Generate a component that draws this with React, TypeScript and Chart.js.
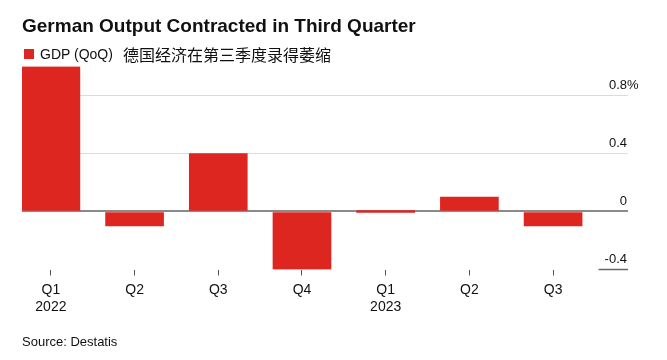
import React, { useEffect, useRef } from "react";
import { Chart, registerables } from "chart.js";

Chart.register(...registerables);

const categories = ["Q1", "Q2", "Q3", "Q4", "Q1", "Q2", "Q3"];
const years = ["2022", "", "", "", "2023", "", ""];
const gdpQoQ = [1.0, -0.1, 0.4, -0.4, 0.0, 0.1, -0.1];
const yTicks = [-0.4, 0, 0.4, 0.8];

const RED = "#dd2620";
const FONT = "'Liberation Sans', Arial, Helvetica, sans-serif";

const yLabelPlugin = {
  id: "yLabels",
  afterDraw(chart: any) {
    const ctx = chart.ctx;
    const y = chart.scales.y;
    const right = chart.chartArea.right;
    ctx.save();
    ctx.font = `13px ${FONT}`;
    ctx.fillStyle = "#111";
    ctx.textBaseline = "alphabetic";
    yTicks.forEach((v) => {
      const py = y.getPixelForValue(v);
      const txt = v === 0 ? "0" : String(v);
      ctx.textAlign = "right";
      ctx.fillText(txt, right - 1, py - 7);
      if (v === 0.8) {
        ctx.textAlign = "left";
        ctx.fillText("%", right - 1, py - 7);
      }
      if (v === y.min) {
        const w = ctx.measureText(txt).width + 7;
        ctx.strokeStyle = "#666";
        ctx.lineWidth = 1.5;
        ctx.beginPath();
        ctx.moveTo(right - w, py);
        ctx.lineTo(right, py);
        ctx.stroke();
      }
    });
    ctx.restore();
  },
};

export default function App() {
  const ref = useRef<HTMLCanvasElement>(null);
  useEffect(() => {
    if (!ref.current) return;
    const chart = new Chart(ref.current, {
      type: "bar",
      data: {
        datasets: [
          {
            label: "GDP (QoQ)",
            data: gdpQoQ.map((v, i) => ({ x: i, y: v })),
            backgroundColor: RED,
            barThickness: 58,
            minBarLength: 2,
            borderWidth: 0,
          },
        ],
      },
      options: {
        animation: false,
        responsive: false,
        maintainAspectRatio: false,
        layout: { padding: { left: 22, right: 39, top: 66.5, bottom: 40.5 } },
        plugins: { legend: { display: false }, tooltip: { enabled: false }, title: { display: false } },
        scales: {
          x: {
            type: "linear",
            min: -0.345,
            max: 6.895,
            offset: false,
            afterBuildTicks: (axis: any) => {
              axis.ticks = categories.map((_, i) => ({ value: i }));
            },
            afterFit: (axis: any) => {
              axis.height = 50;
            },
            border: { display: false },
            grid: {
              offset: false,
              drawOnChartArea: false,
              drawTicks: true,
              tickLength: 6,
              color: "#555",
              lineWidth: 1,
            },
            ticks: {
              padding: 6,
              maxRotation: 0,
              autoSkip: false,
              color: "#111",
              font: { family: FONT, size: 14, lineHeight: 1.22 },
              callback: (value: any) => {
                const i = Math.round(Number(value));
                return years[i] ? [categories[i], years[i]] : categories[i];
              },
            },
          },
          y: {
            position: "right",
            min: -0.4,
            max: 1.0,
            afterBuildTicks: (axis: any) => {
              axis.ticks = yTicks.map((v) => ({ value: v }));
            },
            border: { display: false },
            grid: {
              drawTicks: false,
              color: (c: any) =>
                c.tick && c.tick.value === 0 ? "#8a8a8a" : c.tick && c.tick.value === -0.4 ? "rgba(0,0,0,0)" : "#dcdcdc",
              lineWidth: (c: any) => (c.tick && c.tick.value === 0 ? 2 : 1),
            },
            ticks: { display: false },
          },
        },
      },
      plugins: [yLabelPlugin],
    });
    return () => chart.destroy();
  }, []);

  return (
    <div style={{ position: "fixed", left: 0, top: 0, width: 667, height: 360, background: "#fff", fontFamily: FONT, color: "#111" }}>
      <canvas ref={ref} width={667} height={360} style={{ position: "absolute", left: 0, top: 0, width: 667, height: 360 }} />
      <div style={{ position: "absolute", left: 22, top: 15, fontSize: 19, fontWeight: "bold", whiteSpace: "nowrap" }}>
        German Output Contracted in Third Quarter
      </div>
      <div style={{ position: "absolute", left: 24, top: 43, height: 22, display: "flex", alignItems: "center", whiteSpace: "nowrap" }}>
        <span style={{ display: "inline-block", width: 10, height: 10, background: RED, marginRight: 6 }} />
        <span style={{ fontSize: 14 }}>GDP (QoQ)</span>
        <span style={{ fontSize: 16, marginLeft: 10, fontFamily: "'Noto Sans CJK SC', sans-serif" }}>德国经济在第三季度录得萎缩</span>
      </div>
      <div style={{ position: "absolute", left: 22, top: 334, fontSize: 13, whiteSpace: "nowrap" }}>Source: Destatis</div>
    </div>
  );
}
